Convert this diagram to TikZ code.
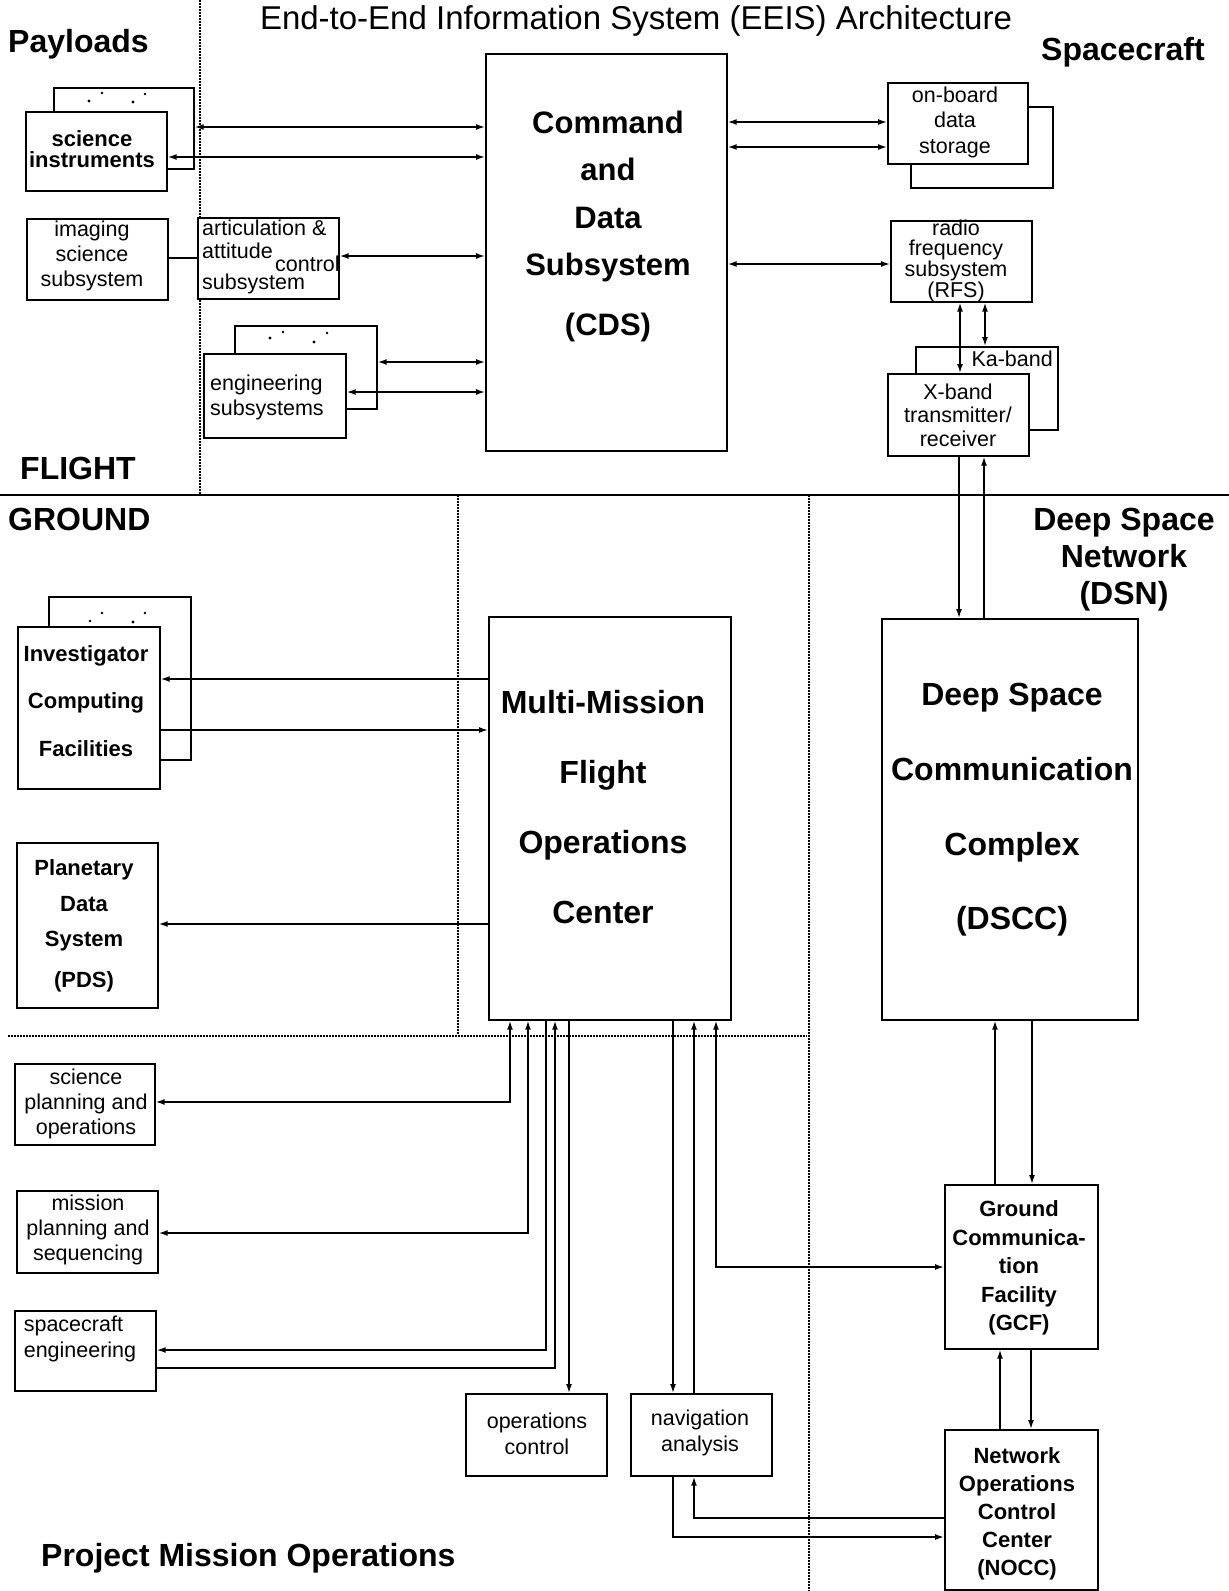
\documentclass[tikz,border=0pt]{standalone}
\usepackage{fontspec}
\setmainfont{Liberation Sans}
\usetikzlibrary{arrows.meta}
\newcommand{\fs}[2]{\fontsize{#1}{#2}\selectfont}
\begin{document}
\begin{tikzpicture}[x=1pt,y=-1pt,
  box/.style={draw,line width=1.7pt,fill=white,inner sep=0pt,anchor=north west},
  txt/.style={inner sep=0pt,align=center},
  reg/.style={txt,font=\fs{21.5}{25}},
  bld/.style={txt,font=\bfseries\fs{22}{28}},
  big/.style={txt,font=\bfseries\fs{32}{37}},
  conn/.style={line width=1.5pt},
  toarrow/.style={conn,-{Latex[length=9pt,width=6pt]}},
  fromarrow/.style={conn,{Latex[length=9pt,width=6pt]}-},
  bothways/.style={conn,{Latex[length=9pt,width=6pt]}-{Latex[length=9pt,width=6pt]}},
  sep/.style={line width=1.1pt,dash pattern=on 1.5pt off 1.5pt},
  dotmark/.style={fill=black}
]
\useasboundingbox[fill=white] (0,0) rectangle (1229,1591);

% ---- separators
\draw[line width=1.8pt] (0,495) -- (1229,495);
\draw[sep] (200,0) -- (200,495);
\draw[sep] (458,495) -- (458,1035);
\draw[sep] (809,495) -- (809,1591);
\draw[sep] (8,1036) -- (807,1036);

% ---- headings
\node[txt,font=\fs{33}{38}] (title) at (636,21) {End-to-End Information System (EEIS) Architecture};
\node[big,anchor=west] (payloads) at (8,44) {Payloads};
\node[big,anchor=east] (spacecraft) at (1205,52) {Spacecraft};
\node[big,anchor=west] (flight) at (20,468) {FLIGHT};
\node[big,anchor=west] (ground) at (8,519) {GROUND};
\node[big] (dsn) at (1124,560) {Deep Space\\Network\\(DSN)};
\node[big,anchor=west] (pmo) at (41,1558) {Project Mission Operations};

% ---- flight boxes
\node[box,minimum width=241,minimum height=397] (cds) at (485,53) {};
\node[txt,font=\bfseries\fs{31}{47.5}] (cdst) at (608,226) {Command\\and\\Data\\Subsystem\\[12pt](CDS)};

\node[box,minimum width=140,minimum height=81] (sib) at (53,87) {};
\node[box,minimum width=141,minimum height=79] (si) at (25,111) {};
\node[bld,font=\bfseries\fs{22}{21}] (sit) at (92,149) {science\\instruments};
\fill[dotmark] (89,101) circle (1.6) (102,93) circle (1.3) (133,102) circle (1.6) (145,94) circle (1.3);

\node[box,minimum width=141,minimum height=81] (iss) at (26,218) {};
\node[reg] (isst) at (92,256) {imaging\\science\\subsystem};

\node[box,minimum width=141,minimum height=81] (acs) at (197,217) {};
\node[reg,anchor=west] (acs1) at (202,228) {articulation \&};
\node[reg,anchor=west] (acs2) at (202,251) {attitude};
\node[reg,anchor=west] (acsc) at (275,264) {control};
\node[reg,anchor=west] (acs3) at (202,284) {subsystem};

\node[box,minimum width=142,minimum height=83] (engb) at (234,325) {};
\node[box,minimum width=142,minimum height=84] (eng) at (203,353) {};
\node[reg,align=left,anchor=west] (engt) at (210,397) {engineering\\subsystems};
\fill[dotmark] (270,338) circle (1.6) (283,332) circle (1.3) (314,342) circle (1.6) (327,333) circle (1.3);

\node[box,minimum width=142,minimum height=81] (obdsb) at (910,106) {};
\node[box,minimum width=140,minimum height=81] (obds) at (887,82) {};
\node[reg,font=\fs{21.5}{25.5}] (obdst) at (955,122) {on-board\\data\\storage};

\node[box,minimum width=141,minimum height=81] (rfs) at (890,220) {};
\node[reg,font=\fs{21.5}{19.7}] (rfst) at (956,261) {radio\\frequency\\subsystem\\(RFS)};

\node[box,minimum width=142,minimum height=83] (ka) at (915,346) {};
\node[reg,anchor=east] (kat) at (1053,359) {Ka-band};
\node[box,minimum width=141,minimum height=82] (xb) at (887,373) {};
\node[reg,font=\fs{21.5}{23.5}] (xbt) at (958,415) {X-band\\transmitter/\\receiver};

% ---- ground boxes
\node[box,minimum width=242,minimum height=403] (mm) at (488,616) {};
\node[txt,font=\bfseries\fs{32}{70}] (mmt) at (603,807) {Multi-Mission\\Flight\\Operations\\Center};

\node[box,minimum width=256,minimum height=401] (dscc) at (881,618) {};
\node[txt,font=\bfseries\fs{32}{74.7}] (dscct) at (1012,810) {Deep Space\\Communication\\Complex\\(DSCC)};

\node[box,minimum width=142,minimum height=163] (icfb) at (48,596) {};
\node[box,minimum width=142,minimum height=162] (icf) at (17,626) {};
\node[bld,font=\bfseries\fs{22}{47.5}] (icft) at (86,701) {Investigator\\Computing\\Facilities};
\fill[dotmark] (90,621) circle (1.3) (102,613) circle (1.3) (133,622) circle (1.6) (145,613) circle (1.3);

\node[box,minimum width=141,minimum height=165] (pds) at (16,842) {};
\node[bld,font=\bfseries\fs{22}{35.5}] (pdst) at (84,926) {Planetary\\Data\\System\\[5pt](PDS)};

\node[box,minimum width=140,minimum height=81] (spo) at (14,1063) {};
\node[reg] (spot) at (86,1104) {science\\planning and\\operations};

\node[box,minimum width=141,minimum height=82] (mps) at (16,1190) {};
\node[reg] (mpst) at (88,1230) {mission\\planning and\\sequencing};

\node[box,minimum width=141,minimum height=80] (se) at (14,1310) {};
\node[reg,align=left,font=\fs{21.5}{26}] (set) at (80,1339) {spacecraft\\engineering};

\node[box,minimum width=141,minimum height=82] (oc) at (465,1393) {};
\node[reg,font=\fs{21.5}{26}] (oct) at (537,1434) {operations\\control};

\node[box,minimum width=141,minimum height=82] (na) at (630,1393) {};
\node[reg,font=\fs{21.5}{26}] (nat) at (700,1433) {navigation\\analysis};

\node[box,minimum width=153,minimum height=164] (gcf) at (944,1184) {};
\node[bld,font=\bfseries\fs{22}{28.5}] (gcft) at (1019,1268) {Ground\\Communica-\\tion\\Facility\\(GCF)};

\node[box,minimum width=153,minimum height=160] (nocc) at (944,1429) {};
\node[bld,font=\bfseries\fs{22}{28}] (nocct) at (1017,1514) {Network\\Operations\\Control\\Center\\(NOCC)};

% ---- flight connectors
\draw[bothways] (sib.east |- 0,127) -- (cds.west |- 0,127);
\draw[bothways] (si.east |- 0,157) -- (cds.west |- 0,157);
\draw[conn] (iss.east |- 0,258) -- (acs.west |- 0,258);
\draw[bothways] (acs.east |- 0,256) -- (cds.west |- 0,256);
\draw[bothways] (engb.east |- 0,362) -- (cds.west |- 0,362);
\draw[bothways] (eng.east |- 0,392) -- (cds.west |- 0,392);
\draw[bothways] (cds.east |- 0,122) -- (obds.west |- 0,122);
\draw[bothways] (cds.east |- 0,147) -- (obds.west |- 0,147);
\draw[bothways] (cds.east |- 0,264) -- (rfs.west |- 0,264);
\draw[bothways] (rfs.south -| 960,0) -- (xb.north -| 960,0);
\draw[bothways] (rfs.south -| 985,0) -- (ka.north -| 985,0);
\draw[toarrow] (xb.south -| 959,0) -- (dscc.north -| 959,0);
\draw[fromarrow] (xb.south -| 984,0) -- (dscc.north -| 984,0);

% ---- ground connectors
\draw[toarrow] (mm.west |- 0,679) -- (icf.east |- 0,679);
\draw[toarrow] (icf.east |- 0,730) -- (mm.west |- 0,730);
\draw[toarrow] (mm.west |- 0,924) -- (pds.east |- 0,924);

\draw[bothways] (spo.east |- 0,1102) -| (mm.south -| 510,0);
\draw[bothways] (mps.east |- 0,1233) -| (mm.south -| 528,0);
\draw[fromarrow] (se.east |- 0,1350) -| (mm.south -| 546,0);
\draw[toarrow] (se.east |- 0,1368) -| (mm.south -| 555,0);
\draw[toarrow] (mm.south -| 569,0) -- (oc.north -| 569,0);
\draw[toarrow] (mm.south -| 673,0) -- (na.north -| 673,0);
\draw[toarrow] (na.north -| 694,0) -- (mm.south -| 694,0);
\draw[bothways] (gcf.west |- 0,1267) -| (mm.south -| 716,0);

\draw[toarrow] (gcf.north -| 995,0) -- (dscc.south -| 995,0);
\draw[toarrow] (dscc.south -| 1032,0) -- (gcf.north -| 1032,0);
\draw[toarrow] (nocc.north -| 1000,0) -- (gcf.south -| 1000,0);
\draw[toarrow] (gcf.south -| 1031,0) -- (nocc.north -| 1031,0);
\draw[toarrow] (nocc.west |- 0,1518) -| (na.south -| 694,0);
\draw[toarrow] (na.south -| 673,0) |- (nocc.west |- 0,1537);
\end{tikzpicture}
\end{document}
